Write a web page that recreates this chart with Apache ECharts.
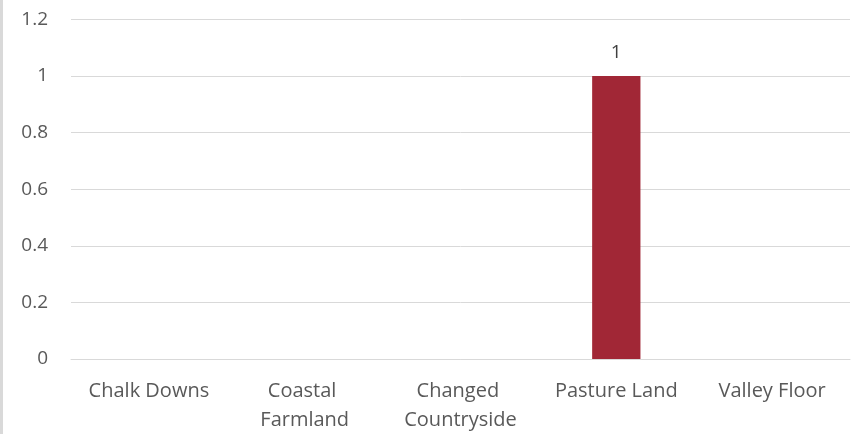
<!DOCTYPE html>
<html><head><meta charset="utf-8">
<script src="https://cdn.jsdelivr.net/npm/echarts@6/dist/echarts.min.js"></script>
<style>html,body{margin:0;padding:0;background:#fff}#c{width:857px;height:434px;position:relative}
#c:before{content:"";position:absolute;left:0;top:0;width:3px;height:434px;background:#d9d9d9;z-index:2}</style>
</head><body><div id="c"></div>
<script>
const categories = ["Chalk Downs", "Coastal Farmland", "Changed Countryside", "Pasture Land", "Valley Floor"];
const values = [null, null, null, 1, null];
const yTicks = [0, 0.2, 0.4, 0.6, 0.8, 1, 1.2];
const chart = echarts.init(document.getElementById('c'), null, {renderer: 'canvas'});
const font = "'Open Sans', sans-serif";
chart.setOption({
  animation: false,
  grid: {left: 71, right: 7, top: 19.5, bottom: 75, containLabel: false, outerBoundsMode: 'none'},
  xAxis: {
    type: 'category', data: categories,
    axisLine: {show: true, lineStyle: {color: '#d9d9d9', width: 1}},
    axisTick: {show: false},
    axisLabel: {color: '#595959', fontSize: 20, fontFamily: font, margin: 18, width: 145, overflow: 'break', lineHeight: 29, interval: 0}
  },
  yAxis: {
    type: 'value', min: 0, max: 1.2, interval: 0.2,
    axisLine: {show: false}, axisTick: {show: false},
    splitLine: {lineStyle: {color: '#d9d9d9', width: 1}},
    axisLabel: {color: '#595959', fontSize: 19, fontFamily: font, margin: 23,
      formatter: v => String(parseFloat(v.toFixed(1)))}
  },
  series: [{
    type: 'bar', data: values, barWidth: '31%',
    itemStyle: {color: '#A12736'},
    label: {show: true, position: 'top', color: '#404040', fontSize: 19, fontFamily: font, distance: 14}
  }]
});
</script></body></html>
